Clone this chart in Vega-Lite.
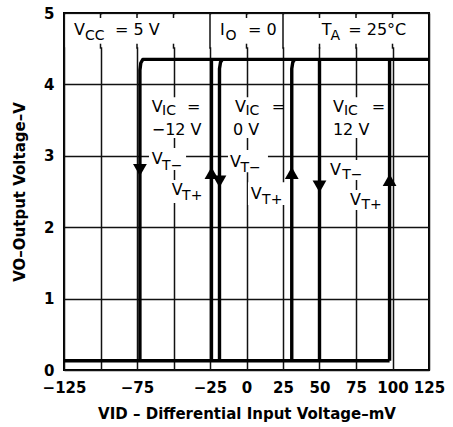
{
  "$schema": "https://vega.github.io/schema/vega-lite/v6.json",
  "autosize": {"type": "none"},
  "width": 365,
  "height": 357,
  "padding": {"left": 64, "top": 13, "right": 24, "bottom": 57},
  "background": "white",
  "config": {
    "view": {"stroke": "black", "strokeWidth": 2},
    "axis": {
      "grid": true, "gridColor": "#111111", "gridWidth": 1.5, "gridOpacity": 1,
      "ticks": false, "domain": false,
      "labelFont": "DejaVu Sans", "labelFontSize": 15, "labelFontWeight": "bold", "labelColor": "black",
      "titleFont": "DejaVu Sans", "titleFontSize": 15, "titleFontWeight": "bold", "titleColor": "black",
      "labelFlush": false, "labelOverlap": false
    },
    "text": {"font": "DejaVu Sans", "color": "black"}
  },
  "datasets": {
    "bgs": [
      {"x": -124, "x2": 124, "y": 4.52, "y2": 4.98},
      {"x": -66.8, "x2": -30.5, "y": 3.25, "y2": 3.82},
      {"x": -66.8, "x2": -41.4, "y": 2.8, "y2": 3.11},
      {"x": -53.8, "x2": -27.7, "y": 2.34, "y2": 2.66},
      {"x": -10.6, "x2": 23.6, "y": 3.25, "y2": 3.82},
      {"x": -12.7, "x2": 14.7, "y": 2.77, "y2": 3.08},
      {"x": 1.0, "x2": 29.0, "y": 2.31, "y2": 2.63},
      {"x": 57.2, "x2": 92, "y": 3.25, "y2": 3.82},
      {"x": 55.8, "x2": 84.6, "y": 2.66, "y2": 2.94},
      {"x": 68.8, "x2": 96.5, "y": 2.24, "y2": 2.52}
    ],
    "hrules": [
      {"x": -25, "y": 4.5, "y2": 5},
      {"x": 25, "y": 4.5, "y2": 5},
      {"x": -100, "y": 4.93, "y2": 5}, {"x": -100, "y": 4.5, "y2": 4.57},
      {"x": -75, "y": 4.93, "y2": 5}, {"x": -75, "y": 4.5, "y2": 4.57},
      {"x": -50, "y": 4.93, "y2": 5}, {"x": -50, "y": 4.5, "y2": 4.57},
      {"x": 0, "y": 4.93, "y2": 5}, {"x": 0, "y": 4.5, "y2": 4.57},
      {"x": 50, "y": 4.93, "y2": 5}, {"x": 50, "y": 4.5, "y2": 4.57},
      {"x": 75, "y": 4.93, "y2": 5}, {"x": 75, "y": 4.5, "y2": 4.57},
      {"x": 100, "y": 4.93, "y2": 5}, {"x": 100, "y": 4.5, "y2": 4.57}
    ],
    "curves": [
      {"seg": "low", "i": 0, "x": -125, "y": 0.13},
      {"seg": "low", "i": 1, "x": 98, "y": 0.13},
      {"seg": "m12fall", "i": 0, "x": -73, "y": 0.13},
      {"seg": "m12fall", "i": 1, "x": -73, "y": 4.2},
      {"seg": "m12fall", "i": 2, "x": -72.4, "y": 4.3},
      {"seg": "m12fall", "i": 3, "x": -71, "y": 4.35},
      {"seg": "m12fall", "i": 4, "x": 125, "y": 4.35},
      {"seg": "m12rise", "i": 0, "x": -24, "y": 0.13},
      {"seg": "m12rise", "i": 1, "x": -24, "y": 4.35},
      {"seg": "z0fall", "i": 0, "x": -18.5, "y": 0.13},
      {"seg": "z0fall", "i": 1, "x": -18.5, "y": 4.22},
      {"seg": "z0fall", "i": 2, "x": -17.8, "y": 4.31},
      {"seg": "z0fall", "i": 3, "x": -16.5, "y": 4.35},
      {"seg": "z0rise", "i": 0, "x": 31, "y": 0.13},
      {"seg": "z0rise", "i": 1, "x": 31, "y": 4.22},
      {"seg": "z0rise", "i": 2, "x": 31.7, "y": 4.31},
      {"seg": "z0rise", "i": 3, "x": 33, "y": 4.35},
      {"seg": "p12fall", "i": 0, "x": 50, "y": 0.13},
      {"seg": "p12fall", "i": 1, "x": 50, "y": 4.35},
      {"seg": "p12rise", "i": 0, "x": 98, "y": 0.13},
      {"seg": "p12rise", "i": 1, "x": 98, "y": 4.35}
    ],
    "arrows": [
      {"x": -73, "y": 2.8, "dir": "down"},
      {"x": -24, "y": 2.76, "dir": "up"},
      {"x": -18.5, "y": 2.64, "dir": "down"},
      {"x": 31, "y": 2.76, "dir": "up"},
      {"x": 50, "y": 2.57, "dir": "down"},
      {"x": 98, "y": 2.66, "dir": "up"}
    ],
    "tmain": [
      {"t": "V", "x": -118.2, "y": 4.69},
      {"t": "= 5 V", "x": -90, "y": 4.69},
      {"t": "I", "x": -18.2, "y": 4.69},
      {"t": "= 0", "x": 1.0, "y": 4.69},
      {"t": "T", "x": 51.5, "y": 4.69},
      {"t": "= 25°C", "x": 69.7, "y": 4.69},
      {"t": "V", "x": -64.9, "y": 3.62},
      {"t": "=", "x": -40.8, "y": 3.62},
      {"t": "−12 V", "x": -64.9, "y": 3.29},
      {"t": "V", "x": -64.9, "y": 2.89},
      {"t": "V", "x": -51.2, "y": 2.45},
      {"t": "V", "x": -7.9, "y": 3.62},
      {"t": "=", "x": 17.3, "y": 3.62},
      {"t": "0 V", "x": -9.2, "y": 3.29},
      {"t": "V", "x": -11.3, "y": 2.85},
      {"t": "V", "x": 2.9, "y": 2.4},
      {"t": "V", "x": 59.2, "y": 3.62},
      {"t": "=", "x": 85.8, "y": 3.62},
      {"t": "12 V", "x": 59.2, "y": 3.29},
      {"t": "V", "x": 57.2, "y": 2.73},
      {"t": "V", "x": 70.9, "y": 2.31}
    ],
    "tsub": [
      {"t": "CC", "x": -110.6, "y": 4.62},
      {"t": "O", "x": -14.4, "y": 4.62},
      {"t": "A", "x": 57.6, "y": 4.62},
      {"t": "IC", "x": -57.8, "y": 3.57},
      {"t": "T−", "x": -57.8, "y": 2.8},
      {"t": "T+", "x": -44.1, "y": 2.38},
      {"t": "IC", "x": -0.7, "y": 3.57},
      {"t": "T−", "x": -4.1, "y": 2.78},
      {"t": "T+", "x": 10.7, "y": 2.33},
      {"t": "IC", "x": 66.7, "y": 3.57},
      {"t": "T−", "x": 65.5, "y": 2.68},
      {"t": "T+", "x": 78.8, "y": 2.26}
    ]
  },
  "encoding": {
    "x": {
      "field": "x", "type": "quantitative",
      "scale": {"domain": [-125, 125], "nice": false, "zero": false},
      "axis": {
        "values": [-125, -100, -75, -50, -25, 0, 25, 50, 75, 100, 125],
        "format": "d",
        "labelExpr": "datum.value == -100 || datum.value == -50 ? '' : datum.label",
        "labelPadding": 10,
        "titlePadding": 11,
        "title": "VID – Differential Input Voltage–mV"
      }
    },
    "y": {
      "field": "y", "type": "quantitative",
      "scale": {"domain": [0, 5], "nice": false, "zero": false},
      "axis": {
        "values": [0, 0.5, 1, 1.5, 2, 2.5, 3, 3.5, 4, 4.5, 5],
        "format": "d",
        "labelExpr": "datum.value % 1 == 0 ? datum.label : ''",
        "labelPadding": 10,
        "titlePadding": 16,
        "title": "VO–Output Voltage–V"
      }
    }
  },
  "layer": [
    {
      "data": {"name": "bgs"},
      "mark": {"type": "rect", "fill": "white", "strokeWidth": 0},
      "encoding": {"x2": {"field": "x2"}, "y2": {"field": "y2"}}
    },
    {
      "data": {"name": "hrules"},
      "mark": {"type": "rule", "color": "#111111", "strokeWidth": 1.5},
      "encoding": {"y2": {"field": "y2"}}
    },
    {
      "data": {"name": "curves"},
      "mark": {"type": "line", "color": "black", "strokeWidth": 3.4, "strokeJoin": "round"},
      "encoding": {
        "detail": {"field": "seg"},
        "order": {"field": "i", "type": "quantitative"}
      }
    },
    {
      "data": {"name": "arrows"},
      "mark": {"type": "point", "filled": true, "color": "black", "opacity": 1, "size": 190},
      "encoding": {
        "shape": {"field": "dir", "type": "nominal", "scale": {"domain": ["up", "down"], "range": ["triangle-up", "triangle-down"]}, "legend": null}
      }
    },
    {
      "data": {"name": "tmain"},
      "mark": {"type": "text", "align": "left", "baseline": "alphabetic", "fontSize": 16},
      "encoding": {"text": {"field": "t"}}
    },
    {
      "data": {"name": "tsub"},
      "mark": {"type": "text", "align": "left", "baseline": "alphabetic", "fontSize": 14},
      "encoding": {"text": {"field": "t"}}
    }
  ]
}
